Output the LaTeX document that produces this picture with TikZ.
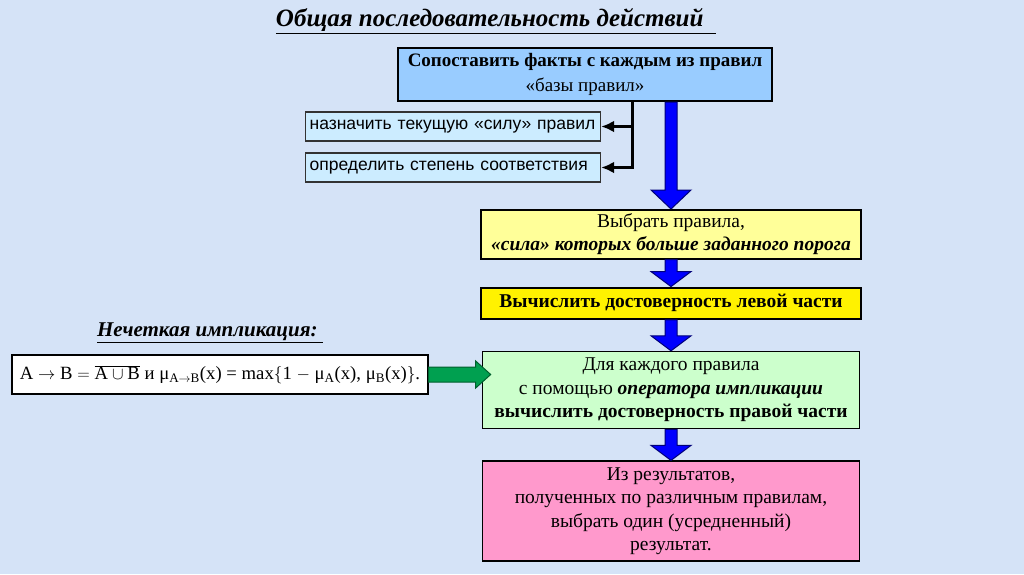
\documentclass[tikz,border=0pt]{standalone}
\usepackage{fontspec}
\setmainfont{Liberation Serif}
\newfontfamily\arial{Liberation Sans}
\usetikzlibrary{positioning,arrows.meta}
\definecolor{bgblue}{RGB}{213,227,247}
\definecolor{skyblue}{RGB}{153,204,255}
\definecolor{paleblue}{RGB}{204,236,255}
\definecolor{paleyellow}{RGB}{255,255,153}
\definecolor{palegreen}{RGB}{204,255,204}
\definecolor{rosepink}{RGB}{255,153,204}
\definecolor{navyblue}{RGB}{0,0,120}
\definecolor{arrowgreen}{RGB}{0,160,80}
\definecolor{darkgreen}{RGB}{0,95,45}

\begin{document}
\begin{tikzpicture}[x=1pt,y=-1pt,>={Latex[length=13pt,width=12pt]},line join=miter,
    main box/.style={draw,line width=1.6pt,align=center,inner sep=0pt,font=\fontsize{19.5}{23.5}\selectfont},
    side box/.style={draw=black!80,line width=1.2pt,fill=paleblue,anchor=west,text width=287pt,align=left,inner xsep=4pt,minimum height=29pt,font=\arial\fontsize{17.5}{20}\selectfont},
    block arrow/.style={draw=navyblue,fill=blue,line width=1pt}]
    \useasboundingbox (0,0) rectangle (1024,574);
    \fill[bgblue] (0,0) rectangle (1024,574);

    \node[font=\bfseries\itshape\fontsize{25}{29}\selectfont] (title) at (496,21) {\underline{Общая последовательность действий\ \ }};

    \node[main box,fill=skyblue,minimum width=374pt,minimum height=53pt,line width=2pt,font=\fontsize{19}{25}\selectfont] (match) at (585,74.5) {\textbf{Сопоставить факты с каждым из правил}\\«базы правил»};
    \node[side box] (force) at (305,126.5) {назначить текущую «силу» правил};
    \node[side box] (degree) at (305,167.5) {определить степень соответствия};

    \node[main box,fill=paleyellow,minimum width=380pt,minimum height=49pt,anchor=north] (select) at (671,209) {Выбрать правила,\\\textbf{\textit{«сила» которых больше заданного порога}}};
    \node[main box,fill=yellow,minimum width=380pt,minimum height=31pt,line width=2.2pt,below=27pt of select] (left) {\textbf{Вычислить достоверность левой части}};
    \node[main box,fill=palegreen,minimum width=377pt,minimum height=77pt,below=31pt of left] (right) {Для каждого правила\\с помощью \textbf{\textit{оператора импликации}}\\\textbf{вычислить достоверность правой части}};
    \node[main box,fill=rosepink,minimum width=377pt,minimum height=100pt,below=31pt of right] (result) {Из результатов,\\полученных по различным правилам,\\выбрать один (усредненный)\\результат.};

    \node[font=\bfseries\itshape\fontsize{21}{25}\selectfont] (implabel) at (210,333) {\underline{Нечеткая импликация:\ }};
    \node[draw,fill=white,line width=1.2pt,minimum width=416pt,minimum height=39pt,inner sep=0pt,font=\fontsize{18.7}{22}\selectfont] (formula) at (220,374.5)
        {$\mathrm{A}\rightarrow\mathrm{B}=\overline{\mathrm{A}\cup\mathrm{B}}$ и μ$_{\mathrm{A}\rightarrow\mathrm{B}}$(x) = max$\{$1 $-$ μ$_\mathrm{A}$(x), μ$_\mathrm{B}$(x)$\}$.};

    % helper points
    \path (match.south -| degree.east) coordinate (branch);
    \path (match.south -| select.north) coordinate (mtop);
    \path (right.west |- formula.east) coordinate (gtip);

    % black connectors to the side boxes
    \draw[->,line width=2.6pt] ([xshift=31pt]branch) |- (degree.east);
    \draw[->,line width=2.6pt] ([xshift=31pt]force.east) -- (force.east);

    % blue arrows down the chain
    \foreach \a/\b/\h in {mtop/select/19,select.south/left/15,left.south/right/15,right.south/result/15}
        \draw[block arrow] ([xshift=-6pt]\a) -- ([xshift=-6pt,yshift=\h pt]\b.north) -- ([xshift=-20pt,yshift=\h pt]\b.north)
            -- (\b.north) -- ([xshift=20pt,yshift=\h pt]\b.north) -- ([xshift=6pt,yshift=\h pt]\b.north) -- ([xshift=6pt]\a) -- cycle;

    % green arrow from the formula
    \draw[draw=darkgreen,fill=arrowgreen,line width=1pt] ([yshift=7.5pt]formula.east) -- ([xshift=-6pt,yshift=7.5pt]gtip)
        -- ([xshift=-6pt,yshift=13.5pt]gtip) -- ([xshift=9pt]gtip) -- ([xshift=-6pt,yshift=-13.5pt]gtip)
        -- ([xshift=-6pt,yshift=-7.5pt]gtip) -- ([yshift=-7.5pt]formula.east) -- cycle;
\end{tikzpicture}
\end{document}
